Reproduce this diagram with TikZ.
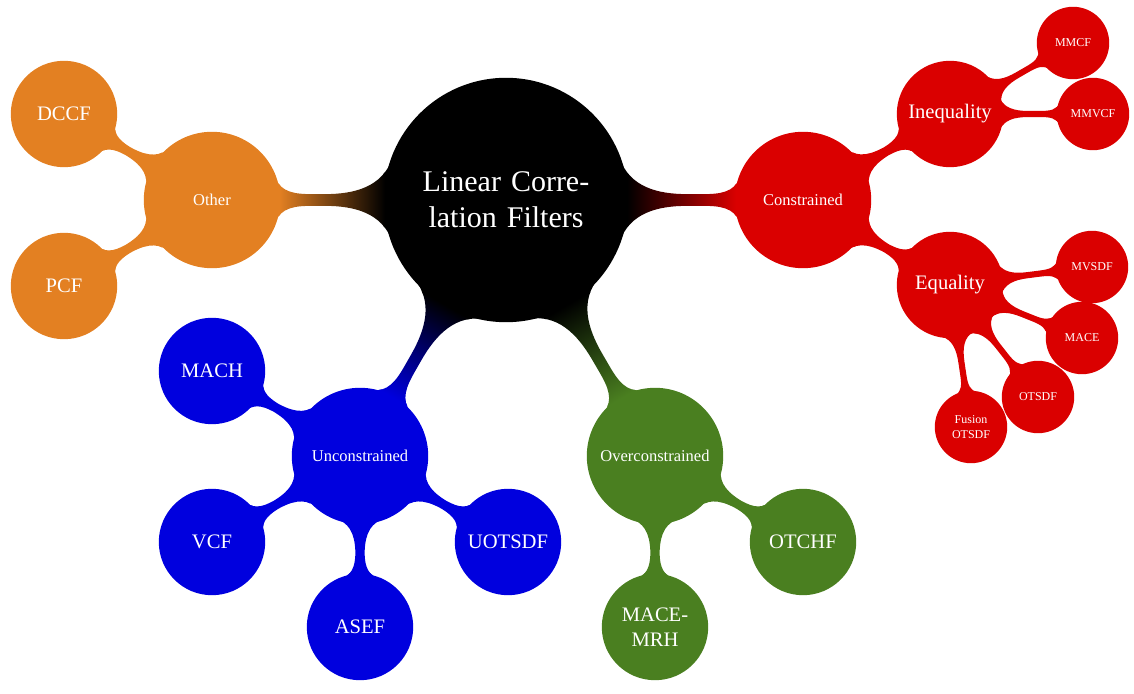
\documentclass[tikz,border=0pt]{standalone}
\usepackage{fontspec}
\setmainfont{Liberation Serif}
\usetikzlibrary{mindmap}
\definecolor{cred}{RGB}{218,0,0}
\definecolor{corange}{RGB}{227,128,34}
\definecolor{cblue}{RGB}{0,0,222}
\definecolor{cgreen}{RGB}{74,127,32}
\begin{document}
\begin{tikzpicture}[x=0.5pt,y=-0.5pt, mindmap,
  base/.style={concept, text=white, inner sep=0pt, align=center},
  rootc/.style={base, concept color=black, minimum size=121pt, text width=100pt, font=\fontsize{15}{18}\selectfont},
  lvlone/.style={base, minimum size=67pt, text width=60pt, font=\fontsize{8.25}{10}\selectfont},
  lvltwo/.style={base, minimum size=52pt, text width=48pt, font=\fontsize{10.3}{12.5}\selectfont},
  lvlthree/.style={base, minimum size=35pt, text width=30pt, font=\fontsize{6}{7.5}\selectfont},
  bar/.style args={#1/#2}{circle connection bar switch color=from (#1) to (#2)}
]
\useasboundingbox (0,0) rectangle (1134,694);
% nodes
\node[rootc] (root) at (506,200) {Linear Corre-\\lation Filters};
\node[lvlone, concept color=cred] (con) at (803,200) {Constrained};
\node[lvlone, concept color=corange] (oth) at (212,200) {Other};
\node[lvlone, concept color=cblue] (unc) at (360,456) {Unconstrained};
\node[lvlone, concept color=cgreen] (ovc) at (655,456) {Overconstrained};
\node[lvltwo, concept color=cred] (ineq) at (950,114) {Inequality};
\node[lvltwo, concept color=cred] (eq) at (950,285) {Equality};
\node[lvlthree, concept color=cred] (mmcf) at (1073,43) {MMCF};
\node[lvlthree, concept color=cred] (mmvcf) at (1093,114) {MMVCF};
\node[lvlthree, concept color=cred] (mvsdf) at (1092,267) {MVSDF};
\node[lvlthree, concept color=cred] (mace) at (1082,338) {MACE};
\node[lvlthree, concept color=cred] (otsdf) at (1038,397) {OTSDF};
\node[lvlthree, concept color=cred] (fus) at (971,427) {Fusion\\OTSDF};
\node[lvltwo, concept color=corange] (dccf) at (64,114) {DCCF};
\node[lvltwo, concept color=corange] (pcf) at (64,286) {PCF};
\node[lvltwo, concept color=cblue] (mach) at (212,371) {MACH};
\node[lvltwo, concept color=cblue] (vcf) at (212,542) {VCF};
\node[lvltwo, concept color=cblue] (asef) at (360,627) {ASEF};
\node[lvltwo, concept color=cblue] (uot) at (508,542) {UOTSDF};
\node[lvltwo, concept color=cgreen] (otchf) at (803,542) {OTCHF};
\node[lvltwo, concept color=cgreen] (mmrh) at (655,627) {MACE-\\MRH};
% connections
\path (root) to[bar=black/cred] (con);
\path (root) to[bar=black/corange] (oth);
\path (root) to[bar=black/cblue] (unc);
\path (root) to[bar=black/cgreen] (ovc);
\path (con) to[bar=cred/cred] (ineq);
\path (con) to[bar=cred/cred] (eq);
\path (ineq) to[bar=cred/cred] (mmcf);
\path (ineq) to[bar=cred/cred] (mmvcf);
\path (eq) to[bar=cred/cred] (mvsdf);
\path (eq) to[bar=cred/cred] (mace);
\path (eq) to[bar=cred/cred] (otsdf);
\path (eq) to[bar=cred/cred] (fus);
\path (oth) to[bar=corange/corange] (dccf);
\path (oth) to[bar=corange/corange] (pcf);
\path (unc) to[bar=cblue/cblue] (mach);
\path (unc) to[bar=cblue/cblue] (vcf);
\path (unc) to[bar=cblue/cblue] (asef);
\path (unc) to[bar=cblue/cblue] (uot);
\path (ovc) to[bar=cgreen/cgreen] (otchf);
\path (ovc) to[bar=cgreen/cgreen] (mmrh);
\end{tikzpicture}
\end{document}
